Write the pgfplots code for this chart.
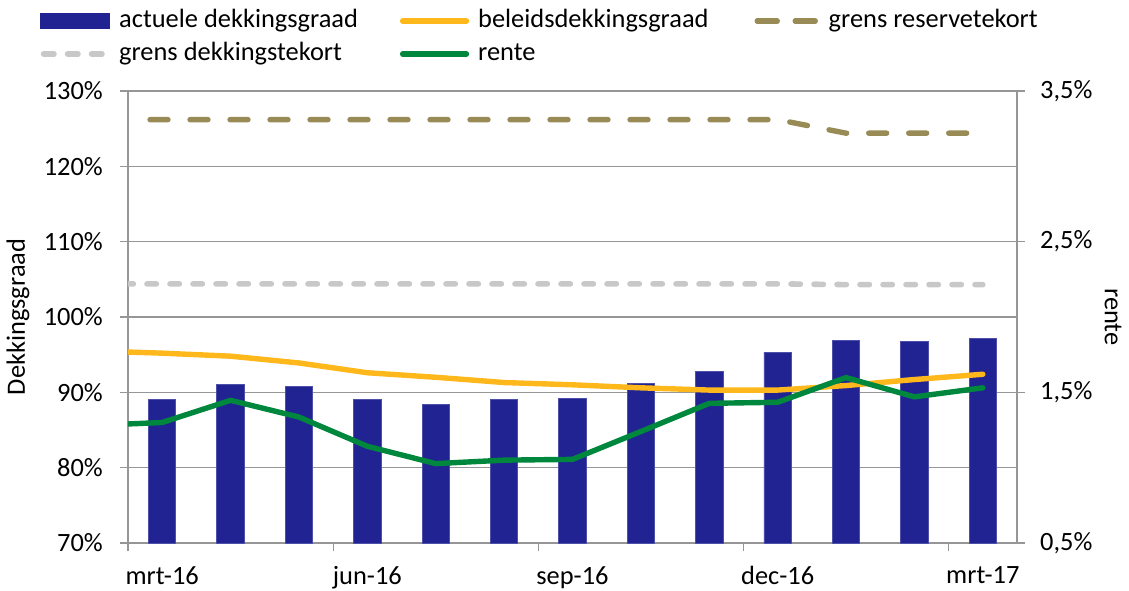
\documentclass[border=0pt]{standalone}
\usepackage{pgfplots}
\pgfplotsset{compat=1.18}
\usepackage{fontspec}
\setmainfont{Carlito}
\definecolor{barblue}{RGB}{33,35,146}
\definecolor{yel}{RGB}{255,184,28}
\definecolor{khaki}{RGB}{152,139,86}
\definecolor{lgrey}{RGB}{200,200,200}
\definecolor{grn}{RGB}{0,135,62}
\definecolor{gridc}{RGB}{150,150,150}
\begin{document}
\fontsize{13.2}{16}\selectfont
\begin{tikzpicture}
\pgfplotsset{/pgf/number format/assume math mode=true,
  every axis/.append style={scale only axis, width=444.5pt, height=226pt,
    xmin=-0.5, xmax=12.5, axis line style={gridc, line width=0.6pt},
    tick style={gridc, line width=0.6pt}, tick align=outside,
    major tick length=4pt}}
\begin{axis}[
  ymin=70, ymax=130, ytick={70,80,...,130},
  yticklabel={\pgfmathprintnumber{\tick}\%},
  yticklabel style={xshift=-4pt},
  ymajorgrids, grid style={gridc, line width=0.6pt},
  axis y line*=left, axis x line*=bottom,
  xtick={-0.5,2.5,5.5,8.5,11.5}, xticklabels={},
  extra x ticks={0,3,6,9,12},
  extra x tick labels={mrt-16,jun-16,sep-16,dec-16,mrt-17},
  extra x tick style={major tick length=0pt, xticklabel style={yshift=-7pt}},
  ylabel={Dekkingsgraad},
  y label style={at={(axis description cs:-0.1237,0.5)}, anchor=center},
  clip=true,
]
\coordinate (pl) at (rel axis cs:0,0);
\coordinate (pr) at (rel axis cs:1,1);
\addplot[ybar, bar width=0.4, fill=barblue, draw=barblue!80!white, line width=0.4pt] coordinates {
(0,89.0)(1,91.1)(2,90.8)(3,89.1)(4,88.45)(5,89.0)(6,89.2)(7,91.2)(8,92.8)(9,95.3)(10,96.9)(11,96.8)(12,97.2)};
\addplot[lgrey, line width=2.8pt, line cap=round, dash pattern=on 4.7pt off 6.8pt, dash phase=2pt] coordinates {
(-0.5,104.4)(0,104.4)(1,104.4)(2,104.4)(3,104.4)(4,104.4)(5,104.4)(6,104.4)(7,104.4)(8,104.4)(9,104.4)(10,104.3)(11,104.3)(12,104.3)};
\addplot[khaki, line width=2.7pt, line cap=round, dash pattern=on 9pt off 11pt, dash phase=9pt] coordinates {
(-0.5,126.2)(0,126.2)(1,126.2)(2,126.2)(3,126.2)(4,126.2)(5,126.2)(6,126.2)(7,126.2)(8,126.2)(9,126.2)(10,124.4)(11,124.4)(12,124.4)};
\addplot[yel, line width=2.7pt, line cap=round, line join=round] coordinates {
(-0.5,95.35)(0,95.2)(1,94.8)(2,93.9)(3,92.6)(4,92.0)(5,91.3)(6,91.0)(7,90.6)(8,90.3)(9,90.3)(10,90.9)(11,91.7)(12,92.4)};
\end{axis}
\begin{axis}[
  ymin=0.5, ymax=3.5, ytick={0.5,1.5,2.5,3.5},
  yticklabel={\pgfmathprintnumber[fixed,fixed zerofill,precision=1,use comma]{\tick}\%},
  yticklabel style={xshift=3pt},
  axis y line*=right, axis x line=none,
  ylabel={rente},
  y label style={at={(axis description cs:1.108,0.5)}, anchor=center, rotate=180},
  legend columns=3,
  legend cell align=left,
  legend style={at={(-0.099,1.19)}, anchor=north west, draw=none, fill=none,
    inner sep=0pt, row sep=1pt,
    nodes={inner sep=1.5pt, text height=9.5pt, text depth=3pt},
    /tikz/every odd column/.append style={column sep=3pt},
    /tikz/every even column/.append style={column sep=19.5pt}},
]
\addlegendimage{legend image code/.code={\fill[barblue] (0pt,-3.6pt) rectangle (34.5pt,3.6pt);}}
\addlegendentry{actuele dekkingsgraad}
\addlegendimage{legend image code/.code={\draw[yel, line width=2.7pt, line cap=round] (1.3pt,0pt) -- (33.2pt,0pt);}}
\addlegendentry{beleidsdekkingsgraad}
\addlegendimage{legend image code/.code={\draw[khaki, line width=2.7pt, line cap=round, dash pattern=on 10pt off 9pt, dash phase=-2pt] (1.3pt,0pt) -- (33.2pt,0pt);}}
\addlegendentry{grens reservetekort}
\addlegendimage{legend image code/.code={\draw[lgrey, line width=2.8pt, line cap=round, dash pattern=on 5.2pt off 6.8pt] (1.4pt,0pt) -- (33.2pt,0pt);}}
\addlegendentry{grens dekkingstekort}
\addplot[grn, line width=2.7pt, line cap=round, line join=round,
  legend image code/.code={\draw[grn, line width=2.7pt, line cap=round] (1.3pt,0pt) -- (33.2pt,0pt);}] coordinates {
(-0.5,1.29)(0,1.30)(1,1.447)(2,1.336)(3,1.142)(4,1.027)(5,1.05)(6,1.055)(7,1.24)(8,1.427)(9,1.434)(10,1.598)(11,1.47)(12,1.53)};
\addlegendentry{rente}
\end{axis}
\pgfresetboundingbox
\path[use as bounding box] ([xshift=-64pt,yshift=-23.5pt]pl) rectangle ([xshift=56pt,yshift=45.5pt]pr);
\end{tikzpicture}
\end{document}
